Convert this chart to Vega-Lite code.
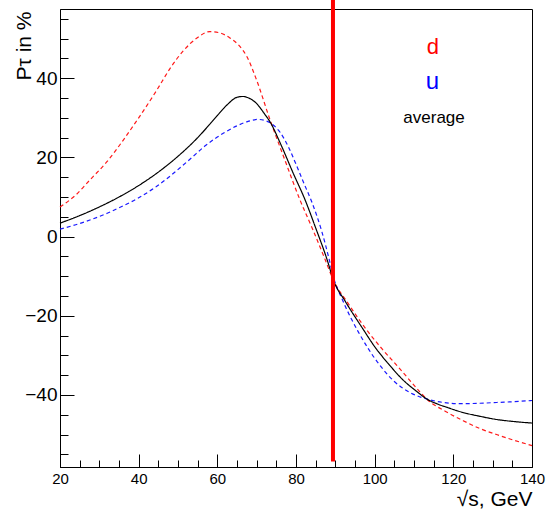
{
  "$schema": "https://vega.github.io/schema/vega-lite/v6.json",
  "width": 472,
  "height": 458,
  "autosize": {"type": "none"},
  "padding": {"left": 60, "top": 9, "right": 15, "bottom": 50},
  "background": "white",
  "config": {
    "view": {"stroke": "#000", "strokeWidth": 1},
    "font": "Liberation Sans"
  },
  "resolve": {"axis": {"x": "independent", "y": "independent"}},
  "datasets": {
    "curves": [
      {"q": "d", "x": 20, "y": 7.5}, {"q": "d", "x": 24, "y": 10.5}, {"q": "d", "x": 27.6, "y": 14.3}, {"q": "d", "x": 32, "y": 19},
      {"q": "d", "x": 36.1, "y": 24.4}, {"q": "d", "x": 40, "y": 30}, {"q": "d", "x": 44.6, "y": 37}, {"q": "d", "x": 48, "y": 42.5},
      {"q": "d", "x": 51.4, "y": 47}, {"q": "d", "x": 55, "y": 50.3}, {"q": "d", "x": 58.1, "y": 51.8}, {"q": "d", "x": 60.5, "y": 51.5},
      {"q": "d", "x": 63.2, "y": 50.2}, {"q": "d", "x": 65.5, "y": 48.3}, {"q": "d", "x": 67.5, "y": 45.5}, {"q": "d", "x": 70, "y": 39.5},
      {"q": "d", "x": 73.4, "y": 29.5}, {"q": "d", "x": 77, "y": 19.8}, {"q": "d", "x": 81, "y": 9.3}, {"q": "d", "x": 84.4, "y": 1.5},
      {"q": "d", "x": 87.4, "y": -5.8}, {"q": "d", "x": 89.6, "y": -11.2}, {"q": "d", "x": 93, "y": -16.5}, {"q": "d", "x": 98.3, "y": -24},
      {"q": "d", "x": 102, "y": -28.5}, {"q": "d", "x": 105.7, "y": -32.6}, {"q": "d", "x": 111.5, "y": -39.2}, {"q": "d", "x": 113.2, "y": -41},
      {"q": "d", "x": 118.3, "y": -44.3}, {"q": "d", "x": 122.5, "y": -46.5}, {"q": "d", "x": 126.8, "y": -48.5}, {"q": "d", "x": 131, "y": -50},
      {"q": "d", "x": 135.3, "y": -51.4}, {"q": "d", "x": 140, "y": -52.8},

      {"q": "u", "x": 20, "y": 1.9}, {"q": "u", "x": 24, "y": 3}, {"q": "u", "x": 27.6, "y": 4.2}, {"q": "u", "x": 32, "y": 5.9},
      {"q": "u", "x": 36.1, "y": 7.8}, {"q": "u", "x": 40, "y": 9.8}, {"q": "u", "x": 44.6, "y": 12.7}, {"q": "u", "x": 48, "y": 15.3},
      {"q": "u", "x": 53.1, "y": 19.6}, {"q": "u", "x": 57, "y": 23}, {"q": "u", "x": 61.5, "y": 26.1}, {"q": "u", "x": 65, "y": 28},
      {"q": "u", "x": 67.5, "y": 29}, {"q": "u", "x": 70.3, "y": 29.6}, {"q": "u", "x": 72.5, "y": 29.2}, {"q": "u", "x": 74.2, "y": 28.2},
      {"q": "u", "x": 76, "y": 26.3}, {"q": "u", "x": 78, "y": 22.8}, {"q": "u", "x": 80, "y": 18.3}, {"q": "u", "x": 82, "y": 13.5},
      {"q": "u", "x": 84, "y": 8.8}, {"q": "u", "x": 86.5, "y": 1.5}, {"q": "u", "x": 88.5, "y": -6}, {"q": "u", "x": 89.6, "y": -10.5},
      {"q": "u", "x": 91.6, "y": -15.5}, {"q": "u", "x": 95.8, "y": -24}, {"q": "u", "x": 98.5, "y": -28.5}, {"q": "u", "x": 101.4, "y": -32.6},
      {"q": "u", "x": 105, "y": -36.6}, {"q": "u", "x": 109, "y": -39.4}, {"q": "u", "x": 113.2, "y": -41}, {"q": "u", "x": 118.3, "y": -42},
      {"q": "u", "x": 122, "y": -42.2}, {"q": "u", "x": 126.8, "y": -42.1}, {"q": "u", "x": 131, "y": -41.9}, {"q": "u", "x": 135.3, "y": -41.7},
      {"q": "u", "x": 140, "y": -41.4},

      {"q": "average", "x": 20, "y": 3.4}, {"q": "average", "x": 25, "y": 5.3}, {"q": "average", "x": 30, "y": 7.5}, {"q": "average", "x": 35, "y": 10},
      {"q": "average", "x": 40, "y": 12.9}, {"q": "average", "x": 45, "y": 16.3}, {"q": "average", "x": 50, "y": 20.3}, {"q": "average", "x": 55, "y": 25},
      {"q": "average", "x": 58, "y": 28.3}, {"q": "average", "x": 60, "y": 30.6}, {"q": "average", "x": 62.5, "y": 33.3}, {"q": "average", "x": 65, "y": 35.2},
      {"q": "average", "x": 66.5, "y": 35.4}, {"q": "average", "x": 68, "y": 35}, {"q": "average", "x": 70, "y": 33.6}, {"q": "average", "x": 72, "y": 31},
      {"q": "average", "x": 73.4, "y": 29}, {"q": "average", "x": 76, "y": 23.6}, {"q": "average", "x": 79.3, "y": 16},
      {"q": "average", "x": 82.3, "y": 9.3}, {"q": "average", "x": 85, "y": 2.2}, {"q": "average", "x": 87.9, "y": -5.8}, {"q": "average", "x": 89.6, "y": -11.2},
      {"q": "average", "x": 92.5, "y": -16.3}, {"q": "average", "x": 97, "y": -23.3}, {"q": "average", "x": 100, "y": -27.8}, {"q": "average", "x": 103.9, "y": -32.6},
      {"q": "average", "x": 107, "y": -36}, {"q": "average", "x": 110.8, "y": -39.2}, {"q": "average", "x": 113.2, "y": -41}, {"q": "average", "x": 116, "y": -42.3},
      {"q": "average", "x": 118.3, "y": -43.1}, {"q": "average", "x": 122, "y": -44.3}, {"q": "average", "x": 126.8, "y": -45.4}, {"q": "average", "x": 131, "y": -46.2},
      {"q": "average", "x": 135.3, "y": -46.7}, {"q": "average", "x": 140, "y": -47.1}
    ]
  },
  "layer": [
    {
      "data": {"name": "curves"},
      "mark": {"type": "line", "interpolate": "monotone", "strokeWidth": 1.2},
      "encoding": {
        "x": {
          "field": "x", "type": "quantitative",
          "scale": {"domain": [20, 140], "nice": false, "zero": false},
          "axis": {
            "orient": "bottom",
            "values": [20, 40, 60, 80, 100, 120, 140],
            "tickSize": -13,
            "labelPadding": 17.5,
            "labelFontSize": 15,
            "labelColor": "#000",
            "labelFlush": false,
            "labelOverlap": false,
            "tickColor": "#000",
            "domainColor": "#000",
            "grid": false,
            "title": "√s, GeV",
            "titleFontSize": 21,
            "titleFontWeight": "normal",
            "titleColor": "#000",
            "titleX": 472,
            "titleY": 38,
            "titleAlign": "right",
            "titleBaseline": "alphabetic"
          }
        },
        "y": {
          "field": "y", "type": "quantitative",
          "scale": {"domain": [-58.2, 57.5], "nice": false, "zero": false},
          "axis": {
            "orient": "left",
            "values": [-40, -20, 0, 20, 40],
            "tickSize": -14,
            "labelPadding": 17,
            "labelFontSize": 19,
            "labelColor": "#000",
            "labelFlush": false,
            "labelOverlap": false,
            "tickColor": "#000",
            "domainColor": "#000",
            "grid": false,
            "title": "Pτ in %",
            "titleFontSize": 21,
            "titleFontWeight": "normal",
            "titleColor": "#000",
            "titleX": -30,
            "titleY": 2,
            "titleAngle": -90,
            "titleAlign": "right",
            "titleBaseline": "alphabetic"
          }
        },
        "color": {
          "field": "q", "type": "nominal",
          "scale": {"domain": ["d", "u", "average"], "range": ["#ff1a1a", "#1a1aff", "#000000"]},
          "legend": null
        },
        "strokeDash": {
          "field": "q", "type": "nominal",
          "scale": {"domain": ["d", "u", "average"], "range": [[4, 3], [4, 3], [1, 0]]},
          "legend": null
        }
      }
    },
    {
      "data": {"values": [{"x": 89.4, "y": -56.8, "y2": 59.8}]},
      "mark": {"type": "rule", "color": "#ff0000", "strokeWidth": 4, "clip": false},
      "encoding": {
        "x": {
          "field": "x", "type": "quantitative",
          "axis": {
            "orient": "bottom",
            "values": [25, 30, 35, 45, 50, 55, 65, 70, 75, 85, 90, 95, 105, 110, 115, 125, 130, 135],
            "tickSize": -7,
            "tickColor": "#000",
            "labels": false,
            "domain": false,
            "grid": false,
            "title": null
          }
        },
        "y": {
          "field": "y", "type": "quantitative",
          "axis": {
            "orient": "left",
            "values": [-55, -50, -45, -35, -30, -25, -15, -10, -5, 5, 10, 15, 25, 30, 35, 45, 50, 55],
            "tickSize": -8,
            "tickColor": "#000",
            "labels": false,
            "domain": false,
            "grid": false,
            "title": null
          }
        },
        "y2": {"field": "y2"}
      }
    },
    {
      "data": {"values": [{"x": 114.8, "y": 46.2, "t": "d"}]},
      "mark": {"type": "text", "color": "#ff0000", "fontSize": 22, "align": "center", "baseline": "alphabetic"},
      "encoding": {
        "x": {"field": "x", "type": "quantitative", "axis": null},
        "y": {"field": "y", "type": "quantitative", "axis": null},
        "text": {"field": "t"}
      }
    },
    {
      "data": {"values": [{"x": 114.7, "y": 37.4, "t": "u"}]},
      "mark": {"type": "text", "color": "#0000ff", "fontSize": 24, "align": "center", "baseline": "alphabetic"},
      "encoding": {
        "x": {"field": "x", "type": "quantitative", "axis": null},
        "y": {"field": "y", "type": "quantitative", "axis": null},
        "text": {"field": "t"}
      }
    },
    {
      "data": {"values": [{"x": 115.1, "y": 28.8, "t": "average"}]},
      "mark": {"type": "text", "color": "#000000", "fontSize": 17, "align": "center", "baseline": "alphabetic"},
      "encoding": {
        "x": {"field": "x", "type": "quantitative", "axis": null},
        "y": {"field": "y", "type": "quantitative", "axis": null},
        "text": {"field": "t"}
      }
    }
  ]
}
